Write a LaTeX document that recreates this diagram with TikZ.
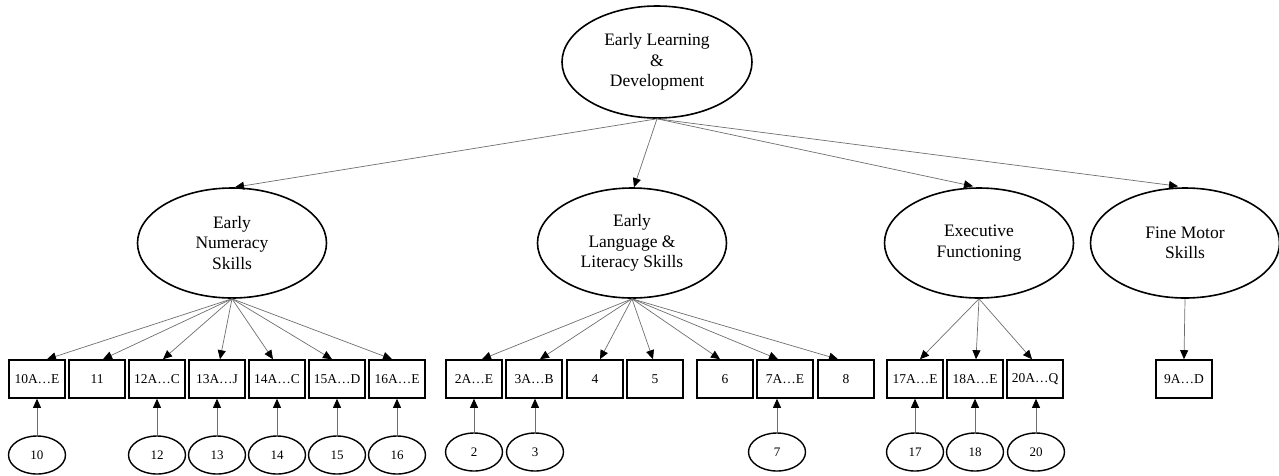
\documentclass[tikz,border=0pt]{standalone}
\usepackage{fontspec}
\setmainfont{Liberation Serif}
\usepackage{tikz}
\usetikzlibrary{arrows.meta,positioning,shapes.geometric}
\definecolor{edgegray}{RGB}{110,110,110}

\tikzset{
    factor/.style={ellipse, draw=black, line width=1.6pt, inner sep=0pt,
        minimum width=189pt, minimum height=110pt, align=center,
        font=\fontsize{17.5}{20.5}\selectfont},
    item/.style={rectangle, draw=black, line width=1.6pt, inner sep=0pt,
        minimum width=56pt, minimum height=38pt,
        font=\fontsize{13.5}{16}\selectfont},
    resid/.style={ellipse, draw=black, line width=1.4pt, inner sep=0pt,
        minimum width=57pt, minimum height=38pt,
        font=\fontsize{13}{15}\selectfont},
    path/.style={draw=edgegray, line width=0.7pt,
        -{Triangle[black,length=9pt,width=8pt]}}
}

\begin{document}
\begin{tikzpicture}[x=1pt,y=-1pt]
\useasboundingbox (0,0) rectangle (1279,475);

% =========================
% Top: overall factor
% =========================
\node[factor, minimum width=190pt, minimum height=112pt] (eld) at (657,62)
    {Early Learning\\\&\\Development};

% =========================
% Middle: domain factors
% =========================
\node[factor] (num)  at (232,243) {Early\\Numeracy\\Skills};
\node[factor] (lang) at (632,243) {Early\\Language \&\\Literacy Skills};
\node[factor] (exf)  at (979,243) {Executive\\Functioning};
\node[factor] (fms)  at (1185,243) {Fine Motor\\Skills};

\draw[path] (eld.south) -- ([xshift=3pt]num.north);
\draw[path] (eld.south) -- ([xshift=2pt]lang.north);
\draw[path] (eld.south) -- ([xshift=-6pt,yshift=1pt]exf.north);
\draw[path] (eld.south) -- ([xshift=-7pt,yshift=1pt]fms.north);

% =========================
% Items: numeracy
% =========================
\foreach \n/\t/\x/\d in {10/{10A…E}/37/10, 11/11/97/6, 12/{12A…C}/157/6, 13/{13A…J}/217/3,
        14/{14A…C}/277/-4, 15/{15A…D}/337/-5, 16/{16A…E}/397/-5}
{
    \node[item] (b\n) at (\x,379) {\t};
    \draw[path] (num.south) -- ([xshift=\d pt]b\n.north);
}

% items: language & literacy
\foreach \n/\t/\x/\d in {2/{2A…E}/474/8, 3/{3A…B}/534/6, 4/4/595/5, 5/5/655/-2,
        6/6/725/-5, 7/{7A…E}/785/-7, 8/8/846/-8}
{
    \node[item] (b\n) at (\x,379) {\t};
    \draw[path] (lang.south) -- ([xshift=\d pt]b\n.north);
}

% items: executive functioning
\foreach \n/\t/\x/\d in {17/{17A…E}/915/5, 18/{18A…E}/975/1, 20/{20A…Q}/1035/-3}
{
    \node[item] (b\n) at (\x,379) {\t};
    \draw[path] (exf.south) -- ([xshift=\d pt]b\n.north);
}

% item: fine motor
\node[item] (b9) at (1184,379) {9A…D};
\draw[path] (fms.south) -- (b9.north);

% =========================
% Bottom: residuals
% =========================
\foreach \n/\x/\y in {10/37/455, 12/157/455, 13/217/455, 14/277/455, 15/337/455,
        16/397/455, 2/474/452, 3/535/452, 7/777/452, 17/915/452, 18/975/452, 20/1036/452}
{
    \node[resid] (e\n) at (\x,\y) {\n};
    \draw[path] (e\n.north) -- (e\n.north |- b\n.south);
}

\end{tikzpicture}
\end{document}
